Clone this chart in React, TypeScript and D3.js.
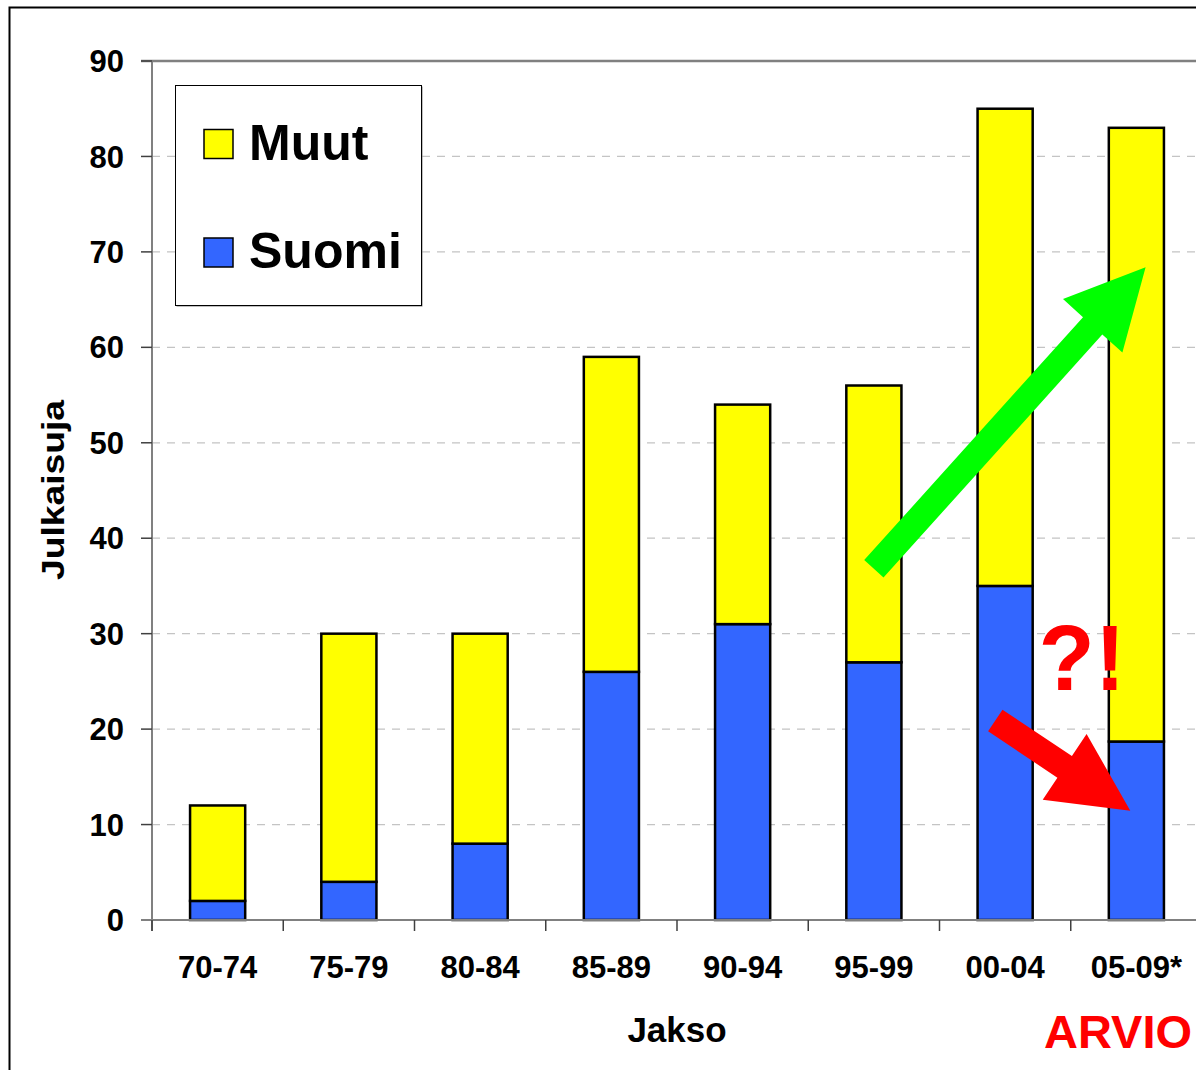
import React from "react";
import * as d3 from "d3";

const categories = ["70-74", "75-79", "80-84", "85-89", "90-94", "95-99", "00-04", "05-09*"];
const suomi = [2, 4, 8, 26, 31, 27, 35, 18.7];
const muut = [10, 26, 22, 33, 23, 29, 50, 64.3];
const yTicks = [0, 10, 20, 30, 40, 50, 60, 70, 80, 90];
const seriesNames = ["Muut", "Suomi"];
const seriesColors = ["#FFFF00", "#3366FF"];
// annotation arrows in data space: [bandPosition, value]
const greenArrow = { from: [5.5, 36.8], to: [7.57, 68.4] };
const redArrow = { from: [6.425, 20.9], to: [7.454, 11.45] };

const FONT = "'Liberation Sans', Arial, Helvetica, sans-serif";

function arrowPath(x0: number, y0: number, x1: number, y1: number, shaft: number, headW: number, headL: number) {
  const dx = x1 - x0, dy = y1 - y0;
  const len = Math.hypot(dx, dy);
  const ux = dx / len, uy = dy / len;
  const px = -uy, py = ux;
  const bx = x1 - ux * headL, by = y1 - uy * headL;
  const s = shaft / 2, h = headW / 2;
  const pts = [
    [x0 + px * s, y0 + py * s],
    [bx + px * s, by + py * s],
    [bx + px * h, by + py * h],
    [x1, y1],
    [bx - px * h, by - py * h],
    [bx - px * s, by - py * s],
    [x0 - px * s, y0 - py * s],
  ];
  return "M" + pts.map((p) => p[0].toFixed(1) + "," + p[1].toFixed(1)).join("L") + "Z";
}

export default function App() {
  const W = 1196, H = 1070;
  const left = 152, right = 1202, top = 61, bottom = 920;
  const y = d3.scaleLinear().domain([0, 90]).range([bottom, top]);
  const x = d3.scaleBand<string>().domain(categories).range([left, right]).paddingInner(0.58).paddingOuter(0.29);
  const xU = d3.scaleLinear().domain([0, categories.length]).range([left, right]);
  const step = x.step();

  const stackData = categories.map((c, i) => ({ cat: c, Suomi: suomi[i], Muut: muut[i] }));
  const stack = d3.stack<any>().keys(["Suomi", "Muut"])(stackData);

  const gArrow = arrowPath(xU(greenArrow.from[0]), y(greenArrow.from[1]), xU(greenArrow.to[0]), y(greenArrow.to[1]), 26, 80, 79);
  const rArrow = arrowPath(xU(redArrow.from[0]), y(redArrow.from[1]), xU(redArrow.to[0]), y(redArrow.to[1]), 26, 79, 79);

  return (
    <svg width={W} height={H} style={{ position: "absolute", left: 0, top: 0, background: "#fff" }} fontFamily={FONT}>
      <rect x={0} y={0} width={W} height={H} fill="#fff" />
      {/* outer frame */}
      <rect x={9.5} y={7.5} width={W + 20} height={H + 20} fill="none" stroke="#000" strokeWidth={2} />

      {/* gridlines */}
      {yTicks.filter((t) => t > 0 && t < 90).map((t) => (
        <line key={"g" + t} x1={left} x2={right} y1={y(t)} y2={y(t)} stroke="#c4c4c4" strokeWidth={1.3} strokeDasharray="8,7" />
      ))}

      {/* plot border top */}
      <line x1={141} x2={right} y1={y(90)} y2={y(90)} stroke="#808080" strokeWidth={2.5} />

      {/* bars */}
      {stack.map((layer) => (
        <g key={layer.key}>
          {layer.map((d: any, i: number) => (
            <rect
              key={i}
              x={x(categories[i])}
              y={y(d[1])}
              width={x.bandwidth()}
              height={y(d[0]) - y(d[1])}
              fill={layer.key === "Suomi" ? seriesColors[1] : seriesColors[0]}
              stroke="#000"
              strokeWidth={2.5}
            />
          ))}
        </g>
      ))}

      {/* y axis */}
      <line x1={left} x2={left} y1={y(90)} y2={bottom + 11} stroke="#808080" strokeWidth={2} />
      {yTicks.map((t) => (
        <g key={"yt" + t}>
          <line x1={141} x2={left} y1={y(t)} y2={y(t)} stroke="#404040" strokeWidth={1.5} />
          <text x={124} y={y(t)} dy="0.36em" textAnchor="end" fontSize={31} fontWeight="bold" fill="#000">{t}</text>
        </g>
      ))}

      {/* x axis */}
      <line x1={141} x2={right} y1={bottom} y2={bottom} stroke="#808080" strokeWidth={2} />
      {d3.range(categories.length + 1).map((i) => (
        <line key={"xt" + i} x1={left + i * step} x2={left + i * step} y1={bottom} y2={bottom + 11} stroke="#404040" strokeWidth={1.5} />
      ))}
      {categories.map((c) => (
        <text key={"xl" + c} x={(x(c) as number) + x.bandwidth() / 2} y={978} textAnchor="middle" fontSize={31} fontWeight="bold" fill="#000">{c}</text>
      ))}

      {/* axis titles */}
      <text x={677} y={1042} textAnchor="middle" fontSize={35} fontWeight="bold" fill="#000">Jakso</text>
      <text transform="translate(64,490) rotate(-90)" textAnchor="middle" fontSize={32} fontWeight="bold" fill="#000" textLength={180} lengthAdjust="spacingAndGlyphs">Julkaisuja</text>

      {/* legend */}
      <rect x={176.5} y={86.5} width={246} height={220} fill="#808080" stroke="none" />
      <rect x={175.5} y={85.5} width={246} height={220} fill="#fff" stroke="#000" strokeWidth={1} />
      {seriesNames.map((n, i) => (
        <g key={"lg" + n}>
          <rect x={204} y={129.5 + i * 108.5} width={29} height={29} fill={seriesColors[i]} stroke="#000" strokeWidth={1.5} />
          <text x={249} y={160 + i * 107.5} fontSize={50} fontWeight="bold" fill="#000">{n}</text>
        </g>
      ))}

      {/* annotations */}
      <path d={gArrow} fill="#00FF00" />
      <path d={rArrow} fill="#FF0000" />
      <text x={1082} y={690} textAnchor="middle" fontSize={92} fontWeight="bold" fill="#FF0000">?!</text>
      <text x={1044} y={1048} fontSize={47} fontWeight="bold" fill="#FF0000">ARVIO</text>
    </svg>
  );
}
